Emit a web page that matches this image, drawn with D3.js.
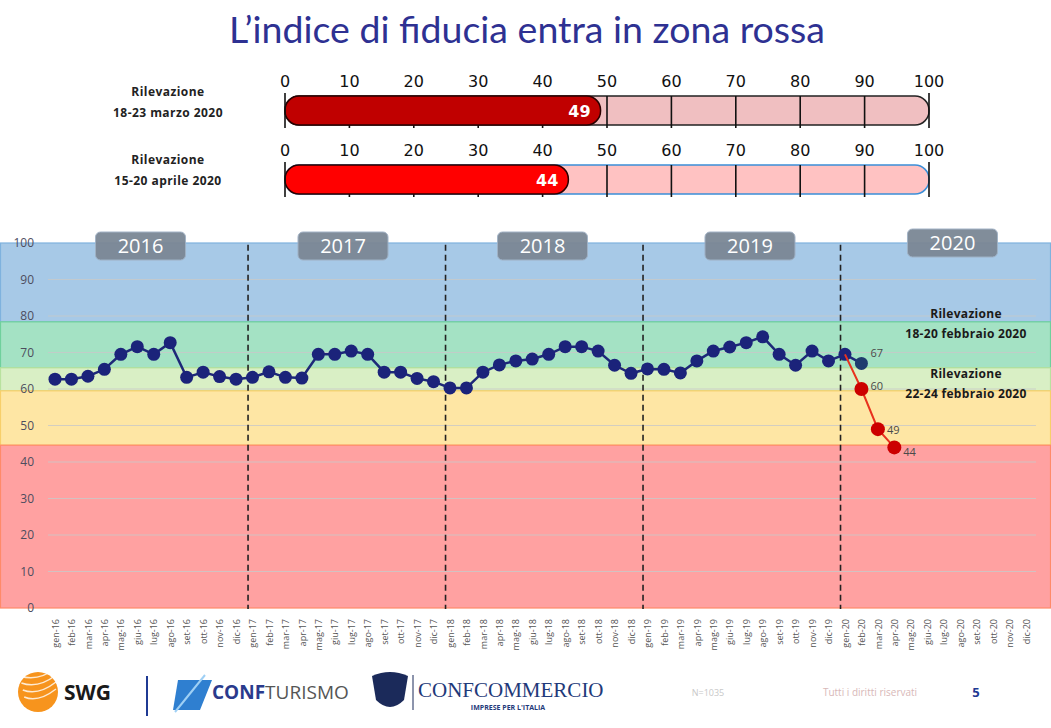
<!DOCTYPE html>
<html><head><meta charset="utf-8">
<script src="https://cdn.jsdelivr.net/npm/d3@7"></script>
<style>
body{margin:0;background:#fff;}
svg{display:block;}
</style></head>
<body>
<svg id="c" width="1051" height="728"></svg>
<script>
// ---------- DATA ----------
const title = "L’indice di fiducia entra in zona rossa";
const months = ["gen-16","feb-16","mar-16","apr-16","mag-16","giu-16","lug-16","ago-16","set-16","ott-16","nov-16","dic-16",
"gen-17","feb-17","mar-17","apr-17","mag-17","giu-17","lug-17","ago-17","set-17","ott-17","nov-17","dic-17",
"gen-18","feb-18","mar-18","apr-18","mag-18","giu-18","lug-18","ago-18","set-18","ott-18","nov-18","dic-18",
"gen-19","feb-19","mar-19","apr-19","mag-19","giu-19","lug-19","ago-19","set-19","ott-19","nov-19","dic-19",
"gen-20","feb-20","mar-20","apr-20","mag-20","giu-20","lug-20","ago-20","set-20","ott-20","nov-20","dic-20"];
const trendValues = [62.7,62.7,63.5,65.4,69.5,71.6,69.5,72.7,63.2,64.6,63.4,62.7,
63.2,64.7,63.2,63.0,69.5,69.5,70.4,69.5,64.6,64.6,62.9,62.0,
60.3,60.3,64.6,66.6,67.7,68.2,69.5,71.6,71.6,70.4,66.5,64.3,
65.5,65.4,64.4,67.7,70.4,71.5,72.7,74.3,69.5,66.5,70.4,67.7,
69.5,67];
const crisisMonths = ["gen-20","feb-20","mar-20","apr-20"];
const crisisValues = [69.5,60,49,44];
const pointLabels = [{m:"feb-20",v:67,t:"67"},{m:"feb-20",v:60,t:"60"},{m:"mar-20",v:49,t:"49"},{m:"apr-20",v:44,t:"44"}];
const yTicks = [0,10,20,30,40,50,60,70,80,90,100];
const bandBreaks = [100,78.4,65.8,59.5,44.6,0];
const years = ["2016","2017","2018","2019","2020"];
const yearStartMonths = ["gen-16","gen-17","gen-18","gen-19","gen-20"];
const gaugeNames = [["Rilevazione","18-23  marzo 2020"],["Rilevazione","15-20  aprile 2020"]];
const gaugeValues = [49,44];
const gaugeTicks = [0,10,20,30,40,50,60,70,80,90,100];
const annotations = [["Rilevazione","18-20  febbraio 2020"],["Rilevazione","22-24  febbraio 2020"]];

// ---------- STYLE ----------
const bandFill = ["#a7c9e7","#a4e2c4","#d9efc5","#fee6a4","#ffa1a1"];
const bandStroke = ["#7fb2de","#6fd09c","#b9e29e","#f7cf6a","#ff8a6a"];

const svg = d3.select("#c");
const FONT = "'Open Sans', 'Liberation Sans', sans-serif";

// title
svg.append("text").attr("x",527).attr("y",43).attr("text-anchor","middle")
  .attr("font-family","Lato, 'Open Sans', sans-serif").attr("font-size",37.5)
  .attr("fill","#2e3192").text(title);

// ---------- GAUGES ----------
const gx = d3.scaleLinear().domain([0,100]).range([285,929]);
const gaugeTop = [96,165];
const gaugeH = 29;
const gaugeBg = ["#f0bfc1","#ffc2c2"];
const gaugeBgStroke = ["#222","#3b8fd8"];
const gaugeFill = ["#c00000","#ff0000"];
gaugeValues.forEach((v,i)=>{
  const g = svg.append("g");
  const y0 = gaugeTop[i];
  g.selectAll("text.nm").data(gaugeNames[i]).join("text")
    .attr("x",168).attr("y",(d,j)=>y0+(i===0?0:-1)+j*21).attr("text-anchor","middle")
    .attr("font-family",FONT).attr("font-weight","bold").attr("font-size",12).attr("letter-spacing",0.45)
    .attr("fill","#222").text(d=>d);
  g.selectAll("text.tk").data(gaugeTicks).join("text")
    .attr("x",d=>gx(d)).attr("y",y0-9).attr("text-anchor","middle")
    .attr("font-family","'DejaVu Sans', sans-serif").attr("font-size",16)
    .attr("fill","#111").text(d=>d);
  g.append("rect").attr("x",gx(0)).attr("y",y0).attr("width",gx(100)-gx(0)).attr("height",gaugeH)
    .attr("rx",14).attr("fill",gaugeBg[i]).attr("stroke",gaugeBgStroke[i]).attr("stroke-width",1.5);
  g.selectAll("line.t").data(gaugeTicks.slice(1,-1)).join("line")
    .attr("x1",d=>gx(d)).attr("x2",d=>gx(d)).attr("y1",y0).attr("y2",y0+gaugeH+3)
    .attr("stroke","#111").attr("stroke-width",1.6);
  g.append("rect").attr("x",gx(0)).attr("y",y0).attr("width",gx(v)-gx(0)).attr("height",gaugeH)
    .attr("rx",14).attr("fill",gaugeFill[i]).attr("stroke","#2a0000").attr("stroke-width",1.5);
  [0,100].forEach(d=>g.append("line").attr("x1",gx(d)).attr("x2",gx(d)).attr("y1",y0-3).attr("y2",y0+gaugeH+3)
    .attr("stroke","#111").attr("stroke-width",1.6));
  g.append("text").attr("x",gx(v)-10).attr("y",y0+gaugeH/2+6).attr("text-anchor","end")
    .attr("font-family","'DejaVu Sans', sans-serif").attr("font-weight","bold").attr("font-size",16)
    .attr("fill","#fff").text(v);
});

// ---------- MAIN CHART ----------
const y = d3.scaleLinear().domain([0,100]).range([608,243]);
const x = d3.scalePoint().domain(months).range([55,1026]);
const step = x.step();

const bands = svg.append("g");
for(let i=0;i<bandBreaks.length-1;i++){
  bands.append("rect").attr("x",0.5).attr("y",y(bandBreaks[i])).attr("width",1050)
    .attr("height",y(bandBreaks[i+1])-y(bandBreaks[i]))
    .attr("fill",bandFill[i]).attr("stroke",bandStroke[i]).attr("stroke-width",1.2);
}
svg.append("g").selectAll("line").data(yTicks.filter(d=>d>0&&d<100)).join("line")
  .attr("x1",48).attr("x2",1036).attr("y1",d=>y(d)).attr("y2",d=>y(d))
  .attr("stroke","#c9c9c9").attr("stroke-width",1).attr("opacity",0.8);

const yAxis = svg.append("g").attr("transform","translate(40,0)")
  .call(d3.axisLeft(y).tickValues(yTicks).tickSize(0).tickPadding(6));
yAxis.select(".domain").remove();
yAxis.selectAll("text").attr("font-family",FONT).attr("font-size",12).attr("fill","#4d4d5e");

const xAxis = svg.append("g").attr("transform","translate(0,608)")
  .call(d3.axisBottom(x).tickSize(0));
xAxis.select(".domain").remove();
xAxis.selectAll("text").attr("font-family",FONT).attr("font-size",9).attr("fill","#555")
  .attr("transform","rotate(-90)").attr("text-anchor","end").attr("x",-11).attr("y",0).attr("dy","0.35em");

const sepX = yearStartMonths.slice(1).map(m=>x(m)-step*0.27);
svg.append("g").selectAll("line").data(sepX).join("line")
  .attr("x1",d=>d).attr("x2",d=>d).attr("y1",y(99.5)).attr("y2",y(0)+1)
  .attr("stroke","#222").attr("stroke-width",1.6).attr("stroke-dasharray","6,4");

const yearShift = [-5,0,2,12,17];
const yearTopShift = [0,0,0,0,-3];
years.forEach((yr,i)=>{
  const cx = x(yearStartMonths[i]) + step*5.5 + yearShift[i];
  const top = 232 + yearTopShift[i];
  svg.append("rect").attr("x",cx-45).attr("y",top).attr("width",90).attr("height",28).attr("rx",5)
    .attr("fill","#7b8795").attr("stroke","#9fb0c4").attr("stroke-width",1).attr("opacity",0.95);
  svg.append("text").attr("x",cx).attr("y",top+21).attr("text-anchor","middle")
    .attr("font-family",FONT).attr("font-size",20).attr("fill","#fff").text(yr);
});

const trend = months.slice(0,trendValues.length).map((m,i)=>({m,v:trendValues[i]}));
svg.append("path").datum(trend)
  .attr("d",d3.line().x(d=>x(d.m)).y(d=>y(d.v)))
  .attr("fill","none").attr("stroke","#1d2878").attr("stroke-width",2.5);
svg.append("g").selectAll("circle").data(trend).join("circle")
  .attr("cx",d=>x(d.m)).attr("cy",d=>y(d.v)).attr("r",6.5)
  .attr("fill",(d,i)=>i===trend.length-1?"#1f3a6e":"#1b237a");

const crisis = crisisMonths.map((m,i)=>({m,v:crisisValues[i]}));
svg.append("path").datum(crisis)
  .attr("d",d3.line().x(d=>x(d.m)).y(d=>y(d.v)))
  .attr("fill","none").attr("stroke","#e8321e").attr("stroke-width",2);
svg.append("g").selectAll("circle").data(crisis.slice(1)).join("circle")
  .attr("cx",d=>x(d.m)).attr("cy",d=>y(d.v)).attr("r",7).attr("fill","#cc0000");

const labelDy = [-6,1,5,9];
svg.append("g").selectAll("text").data(pointLabels).join("text")
  .attr("x",d=>x(d.m)+9).attr("y",(d,i)=>y(d.v)+labelDy[i])
  .attr("font-family",FONT).attr("font-size",11).attr("fill","#4a4a4a").text(d=>d.t);

const annY = [313,373];
annotations.forEach((a,i)=>{
  svg.append("g").selectAll("text").data(a).join("text")
    .attr("x",966).attr("y",(d,j)=>annY[i]+5+j*20).attr("text-anchor","middle")
    .attr("font-family",FONT).attr("font-weight","bold").attr("font-size",12).attr("letter-spacing",0.3)
    .attr("fill","#1a1a1a").text(d=>d);
});

// ---------- FOOTER ----------
const f = svg.append("g");
f.append("circle").attr("cx",38).attr("cy",692).attr("r",20).attr("fill","#f7941d");
[ -10,-3,4,11].forEach(d=>f.append("path").attr("d",`M${22+d*0.2},${692+d-6} Q38,${692+d} ${56},${692+d-14}`)
  .attr("fill","none").attr("stroke","#fff").attr("stroke-width",1.5).attr("opacity",0.8));
f.append("text").attr("x",64).attr("y",700).attr("font-family",FONT).attr("font-weight","bold")
  .attr("font-size",21).attr("fill","#1a1a1a").text("SWG");
f.append("line").attr("x1",147).attr("x2",147).attr("y1",676).attr("y2",716).attr("stroke","#1f3a93").attr("stroke-width",2);
f.append("path").attr("d","M178,680 L212,680 L200,710 L173,710 Z").attr("fill","#2f7fd0");
f.append("path").attr("d","M175,712 L205,675").attr("stroke","#9fd0f5").attr("stroke-width",2);
f.append("text").attr("x",212).attr("y",699).attr("font-family",FONT).attr("font-size",19)
  .attr("fill","#2a3a8c").attr("font-weight","bold").text("CONF")
  .append("tspan").attr("font-weight","normal").attr("fill","#555").text("TURISMO");
f.append("path").attr("d","M372,676 Q390,668 408,676 L404,700 Q390,714 376,700 Z").attr("fill","#1b2a5a");
f.append("line").attr("x1",413).attr("x2",413).attr("y1",675).attr("y2",710).attr("stroke","#1b2a5a").attr("stroke-width",1);
f.append("text").attr("x",418).attr("y",697).attr("font-family","'Liberation Serif', serif").attr("font-size",21)
  .attr("fill","#1f3a7a").text("CONFCOMMERCIO");
f.append("text").attr("x",508).attr("y",710).attr("text-anchor","middle").attr("font-family",FONT)
  .attr("font-weight","bold").attr("font-size",7).attr("fill","#1f3a7a").text("IMPRESE PER L'ITALIA");
f.append("text").attr("x",708).attr("y",696).attr("text-anchor","middle").attr("font-family",FONT)
  .attr("font-size",9).attr("fill","#c8c8c8").text("N=1035");
f.append("text").attr("x",870).attr("y",696).attr("text-anchor","middle").attr("font-family",FONT)
  .attr("font-size",10).attr("fill","#d8b8b8").text("Tutti  i diritti riservati");
f.append("text").attr("x",976).attr("y",697).attr("text-anchor","middle").attr("font-family",FONT)
  .attr("font-weight","bold").attr("font-size",13).attr("fill","#1f3a93").text("5");
</script>
</body></html>
